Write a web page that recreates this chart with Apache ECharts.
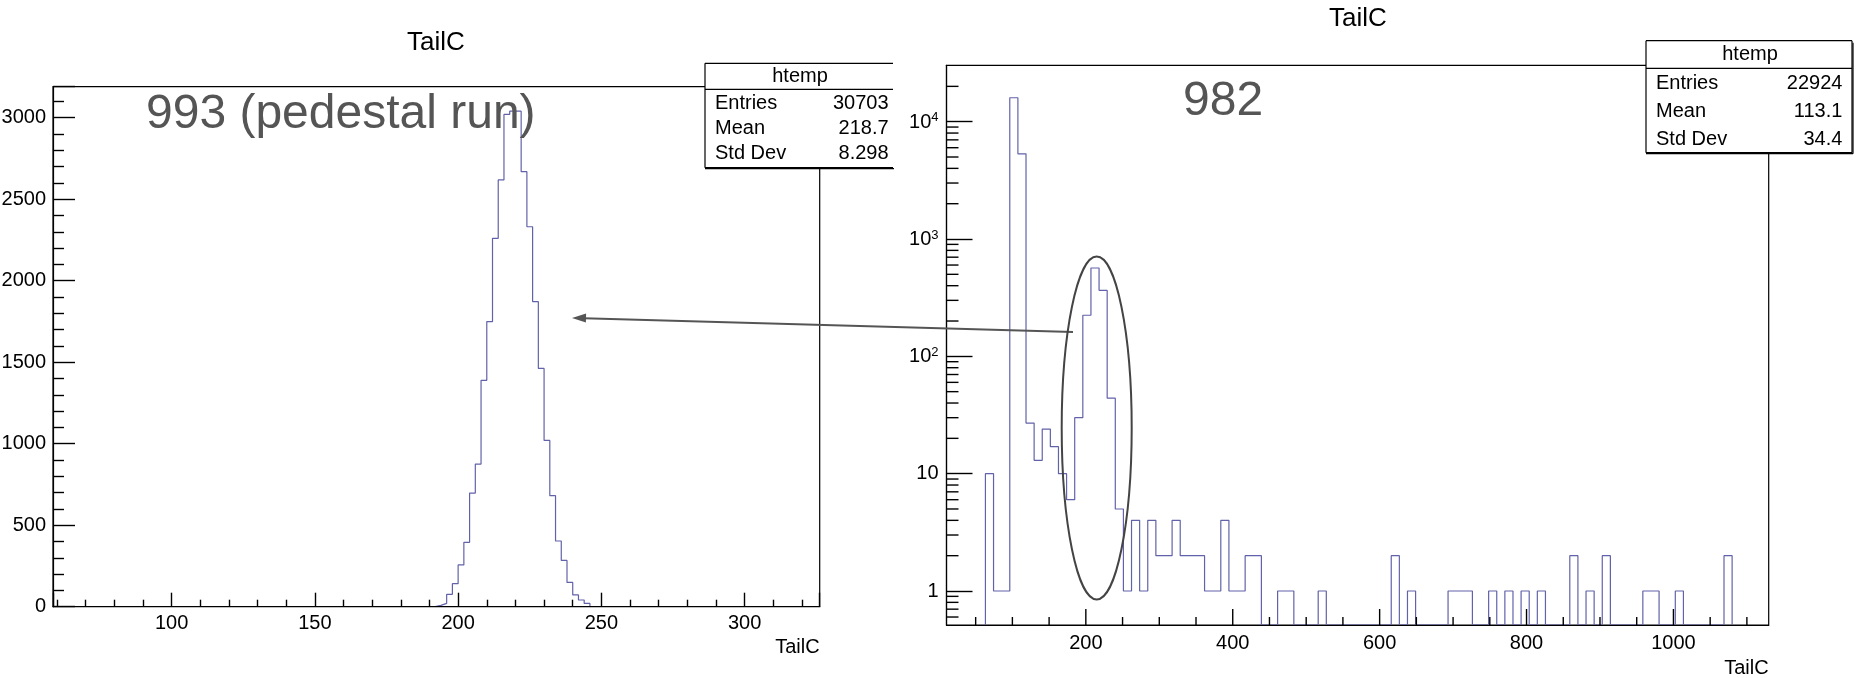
<!DOCTYPE html>
<html>
<head>
<meta charset="utf-8">
<title>TailC</title>
<script src="https://cdn.jsdelivr.net/npm/echarts@6/dist/echarts.min.js"></script>
<style>
  html, body { margin: 0; padding: 0; background: #fff; }
  #main { width: 1863px; height: 678px; }
</style>
</head>
<body>
<div id="main"></div>
<script>
// run 993 (pedestal run), bins of width 2 starting at 192
var pedEdgeStart = 192;
var pedBinWidth = 2;
var pedCounts = [8, 20, 76, 141, 256, 395, 697, 875, 1389, 1749, 2260, 2618, 3020, 3040,
  3040, 2669, 2331, 1871, 1462, 1020, 681, 403, 284, 149, 72, 41, 20];
var pedXRange = [58.6, 326.2];
var pedYRange = [0, 3190];
var pedStats = [['Entries', '30703'], ['Mean', '218.7'], ['Std Dev', '8.298']];

// run 982, log y, bins of ~11.05 starting at 63.3
var runEdgeStart = 63.3;
var runBinWidth = 11.05;
var runCounts = [10, 1, 1, 16000, 5320, 27, 13, 24, 17, 10,
  6, 30, 224, 566, 365, 44, 5, 1, 4, 1,
  4, 2, 2, 4, 2, 2, 2, 1, 1, 4,
  1, 1, 2, 2, 0, 0, 1, 1, 0, 0,
  0, 1, 0, 0, 0, 0, 0, 0, 0, 0,
  2, 0, 1, 0, 0, 0, 0, 1, 1, 1,
  0, 0, 1, 0, 1, 0, 1, 0, 1, 0,
  0, 0, 2, 0, 1, 0, 2, 0, 0, 0,
  0, 1, 1, 0, 0, 1, 0, 0, 0, 0,
  0, 2];
var runXRange = [10.3, 1129.7];
var runYRange = [0.513, 30240];
var runXMajorTicks = [200, 400, 600, 800, 1000];
var runXMinorTicks = [50, 100, 150, 250, 300, 350, 450, 500, 550, 650, 700, 750, 850, 900, 950, 1050, 1100];
var runYMinorTicks = [0.6, 0.7, 0.8, 0.9, 2, 3, 4, 5, 6, 7, 8, 9, 20, 30, 40, 50, 60, 70, 80, 90,
  200, 300, 400, 500, 600, 700, 800, 900, 2000, 3000, 4000, 5000, 6000, 7000, 8000, 9000, 20000];
var runStats = [['Entries', '22924'], ['Mean', '113.1'], ['Std Dev', '34.4']];

var FONT = 'Liberation Sans, Arial, Helvetica, sans-serif';
var HIST_COLOR = '#6262aa';

// histogram outline points for a step line
function histPoints(start, width, counts, floor) {
  var pts = [[start, floor]];
  counts.forEach(function (c, i) {
    pts.push([start + i * width, c > 0 ? c : floor]);
  });
  pts.push([start + counts.length * width, floor]);
  return pts;
}

function statsBox(box, rows) {
  var x = box.x, y = box.y, w = box.w, h = box.h, headH = box.head, rowH = box.row;
  var els = [];
  var line = function (x1, y1, x2, y2) {
    return { type: 'line', shape: { x1: x1, y1: y1, x2: x2, y2: y2 }, style: { stroke: '#000', lineWidth: 1.2 }, z: 21 };
  };
  els.push({ type: 'rect', shape: { x: x, y: y, width: w, height: h }, style: { fill: '#fff' }, z: 20 });
  els.push(line(x, y, x + w, y));
  els.push(line(x, y, x, y + h));
  els.push(line(x, y + h, x + w, y + h));
  els.push(line(x, y + h + 1, x + w + 1, y + h + 1));
  if (box.closed) {
    els.push(line(x + w, y, x + w, y + h));
    els.push(line(x + w + 1, y + 2, x + w + 1, y + h + 1));
  }
  els.push(line(x, y + headH, x + w, y + headH));
  els.push({ type: 'text', x: box.headX, y: y + headH / 2,
    style: { text: 'htemp', font: '20px ' + FONT, fill: '#000', align: 'center', verticalAlign: 'middle' }, z: 22 });
  rows.forEach(function (r, i) {
    var cy = y + headH + box.rowOff + rowH * (i + 0.5);
    els.push({ type: 'text', x: x + 10, y: cy,
      style: { text: r[0], font: '20px ' + FONT, fill: '#000', align: 'left', verticalAlign: 'middle' }, z: 22 });
    els.push({ type: 'text', x: box.valX, y: cy,
      style: { text: r[1], font: '20px ' + FONT, fill: '#000', align: 'right', verticalAlign: 'middle' }, z: 22 });
  });
  return els;
}

function axisCommon(tickLen, minorLen, minorSplit, labelMargin) {
  return {
    z: 5,
    axisLine: { show: true, onZero: false, lineStyle: { color: '#000', width: 1.2 } },
    axisTick: { show: tickLen > 0, inside: true, length: tickLen, lineStyle: { color: '#000', width: 1.4 } },
    minorTick: { show: minorSplit > 0, splitNumber: minorSplit || 5, length: minorLen, lineStyle: { color: '#000', width: 1.4 } },
    splitLine: { show: false },
    axisLabel: { color: '#000', fontSize: 20, fontFamily: FONT, margin: labelMargin, showMinLabel: false, showMaxLabel: false }
  };
}

function niceOnly(step) {
  return function (v) {
    return Math.abs(v / step - Math.round(v / step)) < 1e-6 ? String(Math.round(v)) : '';
  };
}

var pedX = axisCommon(14, 7, 5, 7);
Object.assign(pedX, { gridIndex: 0, type: 'value', min: pedXRange[0], max: pedXRange[1], minInterval: 50, maxInterval: 50,
  name: 'TailC', nameLocation: 'end', nameGap: 0,
  nameTextStyle: { color: '#000', fontSize: 20, fontFamily: FONT, align: 'right', verticalAlign: 'top', padding: [31, 0, 0, 0] } });
pedX.axisLabel.formatter = niceOnly(50);

var pedY = axisCommon(22, 11, 5, 7);
Object.assign(pedY, { gridIndex: 0, type: 'value', min: pedYRange[0], max: pedYRange[1], minInterval: 500, maxInterval: 500 });
pedY.axisLabel.formatter = niceOnly(500);
pedY.axisLabel.showMinLabel = true;

// right x ticks are drawn by the custom series below
var runX = axisCommon(0, 0, 0, 8);
Object.assign(runX, { gridIndex: 1, type: 'value', min: runXRange[0], max: runXRange[1], minInterval: 200, maxInterval: 200,
  name: 'TailC', nameLocation: 'end', nameGap: 0,
  nameTextStyle: { color: '#000', fontSize: 20, fontFamily: FONT, align: 'right', verticalAlign: 'top', padding: [33, 0, 0, 0] } });
runX.axisLabel.formatter = niceOnly(200);

var runY = axisCommon(26, 12, 0, 8);
Object.assign(runY, { gridIndex: 1, type: 'log', logBase: 10, min: runYRange[0], max: runYRange[1] });
runY.axisLabel.formatter = function (v) {
  var e = Math.log10(v);
  var r = Math.round(e);
  if (Math.abs(e - r) > 1e-6) return '';
  if (r === 0) return '1';
  if (r === 1) return '10';
  return '{n|10}{e|' + r + '}';
};
runY.axisLabel.rich = {
  n: { fontSize: 20, fontFamily: FONT, color: '#000', verticalAlign: 'bottom' },
  e: { fontSize: 13, fontFamily: FONT, color: '#000', verticalAlign: 'top', padding: [0, 0, 8, 0] }
};

// tick marks: [x, y, dx, dy] in data units for position, pixels for direction
var runTickData = []
  .concat(runXMajorTicks.map(function (v) { return [v, runYRange[0], 0, -16]; }))
  .concat(runXMinorTicks.map(function (v) { return [v, runYRange[0], 0, -8]; }))
  .concat(runYMinorTicks.map(function (v) { return [runXRange[0], v, 12, 0]; }));

var graphics = [
  { type: 'text', x: 436, y: 43, style: { text: 'TailC', font: '26px ' + FONT, fill: '#000', align: 'center', verticalAlign: 'middle' } },
  { type: 'text', x: 1358, y: 19, style: { text: 'TailC', font: '26px ' + FONT, fill: '#000', align: 'center', verticalAlign: 'middle' } },
  { type: 'text', x: 146, y: 115, z: 30, style: { text: '993 (pedestal run)', font: '48px ' + FONT, fill: '#555', align: 'left', verticalAlign: 'middle' } },
  { type: 'text', x: 1183, y: 102, z: 30, style: { text: '982', font: '48px ' + FONT, fill: '#555', align: 'left', verticalAlign: 'middle' } },
  // arrow from the circled peak back to the pedestal
  { type: 'line', z: 30, shape: { x1: 1073, y1: 332, x2: 584, y2: 318.3 }, style: { stroke: '#555', lineWidth: 2 } },
  { type: 'polygon', z: 30, shape: { points: [[572, 318], [586.1, 313.6], [585.9, 322.6]] }, style: { fill: '#555' } },
  { type: 'ellipse', z: 30, shape: { cx: 1096.7, cy: 428, rx: 35, ry: 171.5 }, style: { fill: 'none', stroke: '#444', lineWidth: 2 } }
].concat(statsBox({ x: 705, y: 63.3, w: 188, h: 104.4, head: 26, row: 25, rowOff: 2, headX: 800, valX: 888.6, closed: false }, pedStats))
 .concat(statsBox({ x: 1646, y: 40.7, w: 206, h: 112, head: 27.6, row: 28, rowOff: 1, headX: 1750, valX: 1842.4, closed: true }, runStats));

var chart = echarts.init(document.getElementById('main'));
chart.setOption({
  animation: false,
  backgroundColor: '#fff',
  grid: [
    { left: 53, top: 86.7, width: 766.7, height: 520, show: true, borderColor: '#000', borderWidth: 1.2, backgroundColor: 'transparent', outerBoundsMode: 'none' },
    { left: 946.5, top: 65.3, width: 822.2, height: 559.7, show: true, borderColor: '#000', borderWidth: 1.2, backgroundColor: 'transparent', outerBoundsMode: 'none' }
  ],
  xAxis: [pedX, runX],
  yAxis: [pedY, runY],
  series: [
    {
      type: 'line', xAxisIndex: 0, yAxisIndex: 0, step: 'end', symbol: 'none',
      data: histPoints(pedEdgeStart, pedBinWidth, pedCounts, 0),
      lineStyle: { color: HIST_COLOR, width: 1.2 }, silent: true
    },
    {
      type: 'line', xAxisIndex: 1, yAxisIndex: 1, step: 'end', symbol: 'none',
      data: histPoints(runEdgeStart, runBinWidth, runCounts, runYRange[0]),
      lineStyle: { color: HIST_COLOR, width: 1.2 }, silent: true
    },
    {
      // ROOT-style ticks: x ticks of the right chart and log minor ticks at 2..9 x 10^n
      type: 'custom', xAxisIndex: 1, yAxisIndex: 1, silent: true, clip: false, z: 10,
      data: runTickData,
      renderItem: function (params, api) {
        var p = api.coord([api.value(0), api.value(1)]);
        return { type: 'line', z2: 100,
          shape: { x1: p[0], y1: p[1], x2: p[0] + api.value(2), y2: p[1] + api.value(3) },
          style: { stroke: '#000', lineWidth: 1.4 } };
      }
    }
  ],
  graphic: graphics
});
</script>
</body>
</html>
